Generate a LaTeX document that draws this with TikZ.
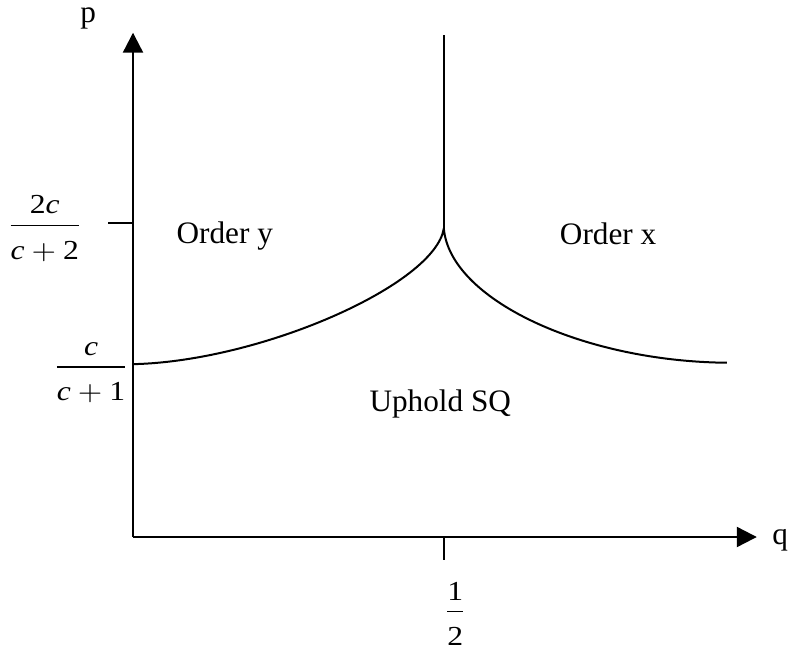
\documentclass[tikz,border=0pt]{standalone}
\usepackage{amsmath}
\usepackage{graphicx}
\usepackage{fontspec}
\setmainfont{Liberation Serif}
\usetikzlibrary{arrows.meta}

\newcommand{\ci}{\textit{c}}
\newcommand{\axfrac}[2]{\scalebox{1.15}[1]{$\dfrac{#1\rule[-1pt]{0pt}{0pt}}{\rule{0pt}{12pt}#2}$}}

\begin{document}
\begin{tikzpicture}[line cap=butt,line join=round,
    font=\fontsize{12.5}{15}\selectfont,
    axis/.style={line width=0.9pt,-{Triangle[length=8pt,width=8pt]}},
    tick/.style={line width=0.9pt},
    bound/.style={line width=0.8pt},
    fraclabel/.style={font=\fontsize{11}{13}\selectfont}]
  \useasboundingbox (-1.870,-1.575) rectangle (9.251,7.550);
  % points of the diagram
  \coordinate (O) at (0,0);
  \coordinate (ptip) at (0,7.09);
  \coordinate (qtip) at (8.77,0);
  \coordinate (cusp) at (4.37,4.34);
  \coordinate (vtop) at (4.37,7.06);
  \coordinate (lstart) at (0,2.43);
  \coordinate (rend) at (8.35,2.45);
  \coordinate (ytick) at (0,4.41);
  \coordinate (xtick) at (4.37,0);
  % axes and ticks
  \draw[axis] (O) -- (ptip);
  \draw[axis] (O) -- (qtip);
  \draw[tick] (ytick) -- ++(-0.35,0);
  \draw[tick] (xtick) -- ++(0,-0.32);
  % boundaries
  \draw[bound] (lstart) .. controls (1.8,2.47) and (4.25,3.55) .. (cusp)
    .. controls (4.45,3.35) and (6.3,2.47) .. (rend);
  \draw[bound] (cusp) -- (vtop);
  % labels
  \node (plabel) at (-0.63,7.29) {p};
  \node (qlabel) at (9.10,-0.04) {q};
  \node (ordery) at (1.29,4.23) {Order y};
  \node (orderx) at (6.68,4.26) {Order x};
  \node (uphold) at (4.32,1.87) {Uphold SQ};
  \node[fraclabel] (fhigh) at (-1.24,4.34) {\axfrac{\text{2\ci}}{\text{\ci}+\text{2}}};
  \node[fraclabel] (flow) at (-0.59,2.31) {\axfrac{\text{\ci}}{\text{\ci}+\text{1}}};
  \node[fraclabel] (fhalf) at (4.53,-1.08) {\axfrac{\text{1}}{\text{2}}};
\end{tikzpicture}
\end{document}
